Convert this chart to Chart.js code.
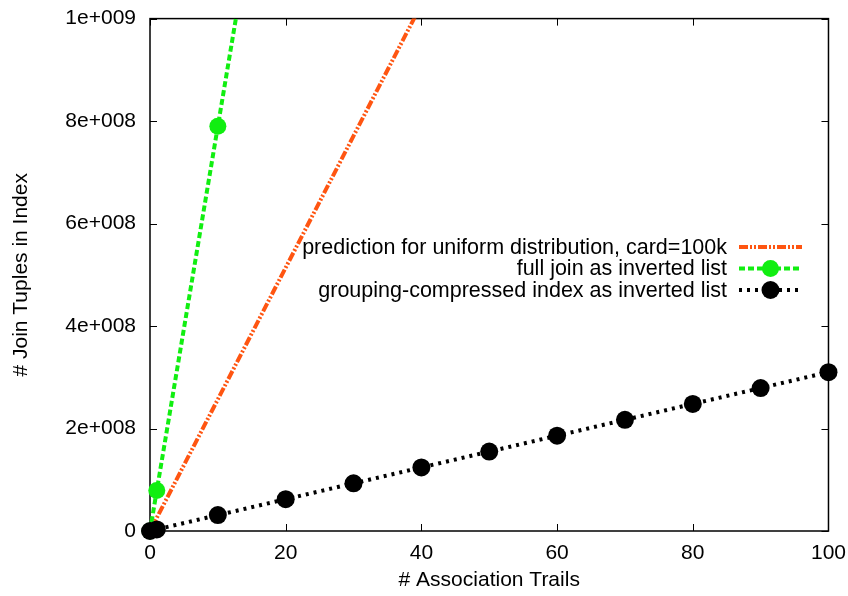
<!DOCTYPE html>
<html>
<head>
<meta charset="utf-8">
<script src="https://cdn.jsdelivr.net/npm/chart.js@4.4.1/dist/chart.umd.min.js"></script>
<style>
  html, body { margin: 0; padding: 0; background: #fff; }
  #wrap { width: 848px; height: 596px; }
</style>
</head>
<body>
<div id="wrap"><canvas id="chart" width="848" height="596"></canvas></div>
<script>
// x values (# association trails)
const trails = [0, 1, 10, 20, 30, 40, 50, 60, 70, 80, 90, 100];

// predicted tuples, uniform distribution, card=100k
const predictionValues = [0, 2.57e7, 2.57e8, 5.14e8, 7.71e8, 1.028e9, 1.285e9, 1.542e9, 1.799e9, 2.056e9, 2.313e9, 2.57e9];
// full join as inverted list
const fullJoinValues = [0, 7.9e7, 7.9e8, 1.58e9, 2.37e9, 3.16e9, 3.95e9, 4.74e9, 5.53e9, 6.32e9, 7.11e9, 7.9e9];
// grouping-compressed index as inverted list
const groupingValues = [0, 3.1e6, 3.1e7, 6.2e7, 9.3e7, 1.24e8, 1.55e8, 1.86e8, 2.17e8, 2.48e8, 2.79e8, 3.1e8];

const seriesLabels = [
  'prediction for uniform distribution, card=100k',
  'full join as inverted list',
  'grouping-compressed index as inverted list'
];

const xTicks = [0, 20, 40, 60, 80, 100];
const yTicks = [0, 2e8, 4e8, 6e8, 8e8, 1e9];

const FONT = '"Liberation Sans", Arial, Helvetica, sans-serif';

function toPoints(values) {
  return trails.map((t, i) => ({ x: t, y: values[i] }));
}

function gnuplotExp(v) {
  if (v === 0) return '0';
  const exp = Math.floor(Math.log10(v) + 1e-9);
  const mant = Math.round(v / Math.pow(10, exp));
  return mant + 'e+' + String(exp).padStart(3, '0');
}

// box + inward ticks like gnuplot
const frame = {
  id: 'frame',
  beforeDatasetsDraw(chart) {
    const { ctx, chartArea: a, scales } = chart;
    ctx.save();
    ctx.strokeStyle = '#000';
    ctx.lineWidth = 1.5;
    ctx.strokeRect(a.left, a.top, a.right - a.left, a.bottom - a.top);
    ctx.lineWidth = 1;
    ctx.beginPath();
    xTicks.forEach(v => {
      const px = Math.round(scales.x.getPixelForValue(v)) + 0.5;
      ctx.moveTo(px, a.bottom); ctx.lineTo(px, a.bottom - 7);
      ctx.moveTo(px, a.top); ctx.lineTo(px, a.top + 7);
    });
    yTicks.forEach(v => {
      const py = Math.round(scales.y.getPixelForValue(v)) + 0.5;
      ctx.moveTo(a.left, py); ctx.lineTo(a.left + 7, py);
      ctx.moveTo(a.right, py); ctx.lineTo(a.right - 7, py);
    });
    ctx.stroke();
    ctx.restore();
  }
};

// gnuplot-style key: text right aligned, sample to the right
const key = {
  id: 'key',
  afterDatasetsDraw(chart) {
    const { ctx } = chart;
    const textRight = 727, x0 = 739, x1 = 802, rowTop = 247, rowGap = 21.5;
    ctx.save();
    ctx.font = '21.5px ' + FONT;
    ctx.textAlign = 'right';
    ctx.textBaseline = 'middle';
    chart.data.datasets.forEach((ds, i) => {
      const y = rowTop + i * rowGap;
      ctx.fillStyle = '#000';
      ctx.fillText(seriesLabels[i], textRight, y + 1);
      ctx.strokeStyle = ds.borderColor;
      ctx.lineWidth = ds.borderWidth;
      ctx.setLineDash(ds.borderDash);
      ctx.beginPath();
      ctx.moveTo(x0, y); ctx.lineTo(x1, y);
      ctx.stroke();
      ctx.setLineDash([]);
      if (ds.pointRadius > 0) {
        ctx.fillStyle = ds.pointBackgroundColor;
        ctx.beginPath();
        ctx.arc((x0 + x1) / 2, y, ds.pointRadius, 0, Math.PI * 2);
        ctx.fill();
      }
    });
    ctx.restore();
  }
};

const clipBox = { left: 12, top: 0, right: 12, bottom: 12 };

new Chart(document.getElementById('chart').getContext('2d'), {
  type: 'line',
  data: {
    datasets: [
      {
        label: seriesLabels[0],
        data: toPoints(predictionValues),
        borderColor: '#ff5511',
        borderWidth: 4,
        borderDash: [9, 2, 2, 2, 2, 2],
        pointRadius: 0,
        pointBackgroundColor: '#ff5511',
        clip: clipBox,
        order: 3
      },
      {
        label: seriesLabels[1],
        data: toPoints(fullJoinValues),
        borderColor: '#11ee11',
        borderWidth: 4,
        borderDash: [6, 3],
        pointRadius: 8.5,
        pointBackgroundColor: '#11ee11',
        pointBorderWidth: 0,
        clip: clipBox,
        order: 2
      },
      {
        label: seriesLabels[2],
        data: toPoints(groupingValues),
        borderColor: '#000000',
        borderWidth: 4,
        borderDash: [3, 5],
        pointRadius: 9,
        pointBackgroundColor: '#000000',
        pointBorderWidth: 0,
        clip: clipBox,
        order: 1
      }
    ]
  },
  options: {
    responsive: false,
    animation: false,
    layout: { padding: { top: 10, right: 15, left: 0, bottom: 0 } },
    plugins: { legend: { display: false }, tooltip: { enabled: false } },
    scales: {
      x: {
        type: 'linear',
        min: 0, max: 100,
        grid: { display: false },
        border: { display: false },
        afterBuildTicks(s) { s.ticks = xTicks.map(v => ({ value: v })); },
        afterFit(s) { s.height = 65; },
        ticks: { color: '#000', font: { family: FONT, size: 21 }, padding: 2, maxRotation: 0 },
        title: { display: true, text: '# Association Trails', color: '#000', font: { family: FONT, size: 21 }, padding: 3 }
      },
      y: {
        type: 'linear',
        min: 0, max: 1e9,
        grid: { display: false },
        border: { display: false },
        afterBuildTicks(s) { s.ticks = yTicks.map(v => ({ value: v })); },
        afterFit(s) { s.width = 150; },
        ticks: { color: '#000', font: { family: FONT, size: 21 }, padding: 6, callback: v => gnuplotExp(v) },
        title: { display: true, text: '# Join Tuples in Index', color: '#000', font: { family: FONT, size: 21 }, padding: 9 }
      }
    }
  },
  plugins: [frame, key]
});
</script>
</body>
</html>
